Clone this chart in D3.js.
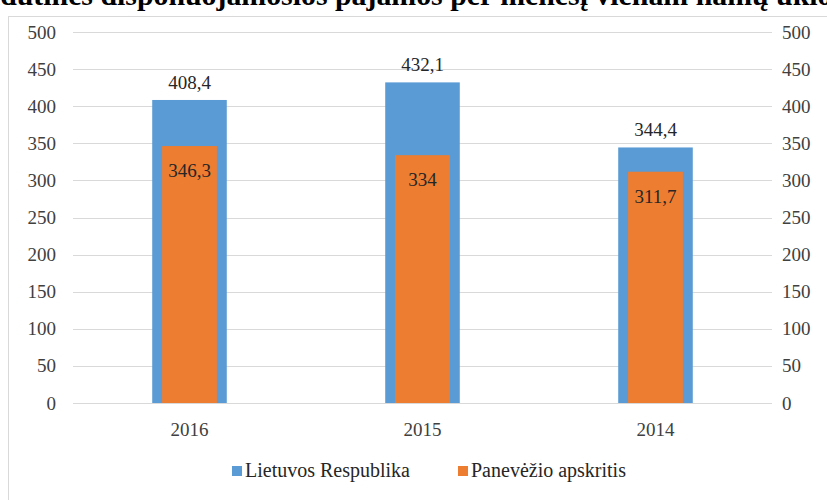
<!DOCTYPE html>
<html>
<head>
<meta charset="utf-8">
<script src="https://cdn.jsdelivr.net/npm/d3@7"></script>
<style>
  body { margin: 0; background: #fff; }
  svg { display: block; font-family: "Liberation Serif", "Times New Roman", serif; }
</style>
</head>
<body>
<div id="chart"></div>
<script>
// chart data
var years = ["2016", "2015", "2014"];
var lietuva = [408.4, 432.1, 344.4];
var panevezys = [346.3, 334, 311.7];
var yTicks = [0, 50, 100, 150, 200, 250, 300, 350, 400, 450, 500];
var seriesNames = ["Lietuvos Respublika", "Panevėžio apskritis"];
var titleText = "Vidutinės disponuojamosios pajamos per mėnesį vienam namų ūkio nariui";

var W = 827, H = 500;
var margin = { left: 73, right: 55, top: 32, bottom: 97 };
var colors = ["#5b9bd5", "#ed7d31"];

var svg = d3.select('#chart').append('svg')
    .attr('width', W)
    .attr('height', H);

// outer chart frame (cut by the page edge)
svg.append('rect')
    .attr('x', 8.5).attr('y', 16.5)
    .attr('width', W + 20).attr('height', H + 20)
    .attr('fill', '#fff')
    .attr('stroke', '#d9d9d9');

// title, mostly cut off at the top of the picture
function measure(str, size) {
    var t = svg.append('text').attr('font-size', size).attr('font-weight', 'bold').text(str);
    var w = t.node().getComputedTextLength();
    t.remove();
    return w;
}
// fit so the "p" of "disponuojamosios" sits near x=137 and "į" of "mėnesį" near x=580
var w1 = measure("Vidutinės dis", 30);
var w2 = measure("Vidutinės disponuojamosios pajamos per mėnes", 30);
var titleSize = 30 * (580 - 137) / (w2 - w1);
svg.append('text')
    .attr('x', 137 - w1 * titleSize / 30)
    .attr('y', 5)
    .attr('font-size', titleSize)
    .attr('font-weight', 'bold')
    .attr('fill', '#000')
    .text(titleText);

var x = d3.scaleBand()
    .domain(years)
    .range([margin.left, W - margin.right])
    .paddingInner(0)
    .paddingOuter(0);

var y = d3.scaleLinear()
    .domain([0, 500])
    .range([H - margin.bottom, margin.top]);

// grid
svg.append('g')
    .selectAll('line')
    .data(yTicks)
    .enter().append('line')
    .attr('x1', margin.left)
    .attr('x2', W - margin.right)
    .attr('y1', function (d) { return Math.round(y(d)) + 0.5; })
    .attr('y2', function (d) { return Math.round(y(d)) + 0.5; })
    .attr('stroke', '#d9d9d9')
    .attr('stroke-width', 1);

// left and right axis labels
var leftAxis = svg.append('g')
    .attr('transform', 'translate(' + (margin.left - 17) + ',0)')
    .call(d3.axisLeft(y).tickValues(yTicks).tickSize(0).tickPadding(0));
var rightAxis = svg.append('g')
    .attr('transform', 'translate(' + (W - margin.right + 10) + ',0)')
    .call(d3.axisRight(y).tickValues(yTicks).tickSize(0).tickPadding(0));
[leftAxis, rightAxis].forEach(function (a) {
    a.select('.domain').remove();
    a.selectAll('text')
        .attr('font-family', '"Liberation Serif", "Times New Roman", serif')
        .attr('font-size', 19)
        .attr('fill', '#404040');
});

// category labels
svg.append('g')
    .selectAll('text')
    .data(years)
    .enter().append('text')
    .attr('x', function (d) { return x(d) + x.bandwidth() / 2; })
    .attr('y', H - margin.bottom + 33)
    .attr('text-anchor', 'middle')
    .attr('font-size', 19)
    .attr('fill', '#404040')
    .text(function (d) { return d; });

var blueW = x.bandwidth() * 0.32;
var orangeW = x.bandwidth() * 0.235;

// blue bars (back)
svg.append('g')
    .selectAll('rect')
    .data(lietuva)
    .enter().append('rect')
    .attr('x', function (d, i) { return x(years[i]) + (x.bandwidth() - blueW) / 2; })
    .attr('width', blueW)
    .attr('y', function (d) { return y(d); })
    .attr('height', function (d) { return y(0) - y(d); })
    .attr('fill', colors[0]);

// orange bars (front)
svg.append('g')
    .selectAll('rect')
    .data(panevezys)
    .enter().append('rect')
    .attr('x', function (d, i) { return x(years[i]) + (x.bandwidth() - orangeW) / 2; })
    .attr('width', orangeW)
    .attr('y', function (d) { return y(d); })
    .attr('height', function (d) { return y(0) - y(d); })
    .attr('fill', colors[1]);

function fmt(v) { return String(v).replace('.', ','); }

// value labels
svg.append('g')
    .selectAll('text')
    .data(lietuva)
    .enter().append('text')
    .attr('x', function (d, i) { return x(years[i]) + x.bandwidth() / 2; })
    .attr('y', function (d) { return y(d) - 11; })
    .attr('text-anchor', 'middle')
    .attr('font-size', 19)
    .attr('fill', '#262626')
    .text(fmt);

svg.append('g')
    .selectAll('text')
    .data(panevezys)
    .enter().append('text')
    .attr('x', function (d, i) { return x(years[i]) + x.bandwidth() / 2; })
    .attr('y', function (d) { return y(d) + 31; })
    .attr('text-anchor', 'middle')
    .attr('font-size', 19)
    .attr('fill', '#262626')
    .text(fmt);

// legend
var legendX = [232, 458];
var legend = svg.append('g')
    .selectAll('g')
    .data(seriesNames)
    .enter().append('g')
    .attr('transform', function (d, i) { return 'translate(' + legendX[i] + ',466)'; });
legend.append('rect')
    .attr('width', 10).attr('height', 10)
    .attr('fill', function (d, i) { return colors[i]; });
legend.append('text')
    .attr('x', 13)
    .attr('y', 11)
    .attr('font-size', 20)
    .attr('fill', '#262626')
    .text(function (d) { return d; });
</script>
</body>
</html>
